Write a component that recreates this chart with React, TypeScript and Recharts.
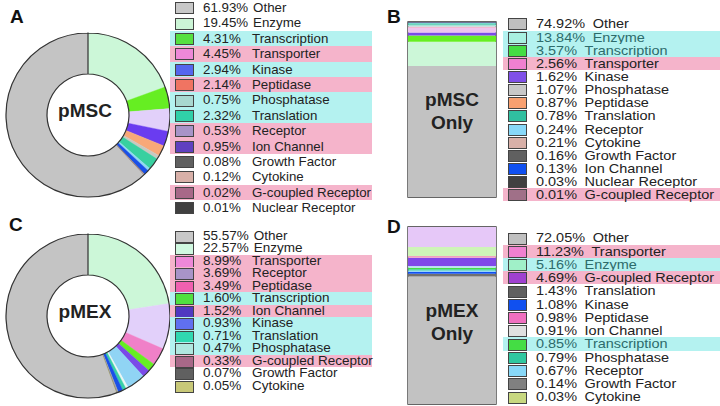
import { Bar, BarChart, Cell, Label, Pie, PieChart, ReferenceArea, XAxis, YAxis } from 'recharts';

const FONT = '"Liberation Sans", Arial, sans-serif';
const CYAN = '#b4f2f0';
const PINK = '#f5b4cb';

// A: pMSC (legend order)
const A_NAMES = ['Other', 'Enzyme', 'Transcription', 'Transporter', 'Kinase', 'Peptidase', 'Phosphatase', 'Translation', 'Receptor', 'Ion Channel', 'Growth Factor', 'Cytokine', 'G-coupled Receptor', 'Nuclear Receptor'];
const A_VALUES = [61.93, 19.45, 4.31, 4.45, 2.94, 2.14, 0.75, 2.32, 0.53, 0.95, 0.08, 0.12, 0.02, 0.01];
const A_PIE_ORDER = ['Enzyme', 'Transcription', 'Transporter', 'Kinase', 'Peptidase', 'Phosphatase', 'Translation', 'Receptor', 'Ion Channel', 'Growth Factor', 'Cytokine', 'G-coupled Receptor', 'Nuclear Receptor', 'Other'];

// B: pMSC only
const B_NAMES = ['Other', 'Enzyme', 'Transcription', 'Transporter', 'Kinase', 'Phosphatase', 'Peptidase', 'Translation', 'Receptor', 'Cytokine', 'Growth Factor', 'Ion Channel', 'Nuclear Receptor', 'G-coupled Receptor'];
const B_VALUES = [74.92, 13.84, 3.57, 2.56, 1.62, 1.07, 0.87, 0.78, 0.24, 0.21, 0.16, 0.13, 0.03, 0.01];
const B_STACK_ORDER = ['Other', 'Enzyme', 'Transcription', 'Kinase', 'Transporter', 'Peptidase', 'Phosphatase', 'Translation', 'Receptor', 'Cytokine', 'Growth Factor', 'Ion Channel', 'Nuclear Receptor', 'G-coupled Receptor'];

// C: pMEX
const C_NAMES = ['Other', 'Enzyme', 'Transporter', 'Receptor', 'Peptidase', 'Transcription', 'Ion Channel', 'Kinase', 'Translation', 'Phosphatase', 'G-coupled Receptor', 'Growth Factor', 'Cytokine'];
const C_VALUES = [55.57, 22.57, 8.99, 3.69, 3.49, 1.6, 1.52, 0.93, 0.71, 0.47, 0.33, 0.07, 0.05];
const C_PIE_ORDER = ['Enzyme', 'Transporter', 'Peptidase', 'Transcription', 'Ion Channel', 'Receptor', 'Phosphatase', 'Translation', 'Kinase', 'G-coupled Receptor', 'Growth Factor', 'Cytokine', 'Other'];

// D: pMEX only
const D_NAMES = ['Other', 'Transporter', 'Enzyme', 'G-coupled Receptor', 'Translation', 'Kinase', 'Peptidase', 'Ion Channel', 'Transcription', 'Phosphatase', 'Receptor', 'Growth Factor', 'Cytokine'];
const D_VALUES = [72.05, 11.23, 5.16, 4.69, 1.43, 1.08, 0.98, 0.91, 0.85, 0.79, 0.67, 0.14, 0.03];
const D_STACK_ORDER = ['Other', 'Translation', 'Growth Factor', 'Kinase', 'Receptor', 'Phosphatase', 'Transcription', 'Ion Channel', 'G-coupled Receptor', 'Peptidase', 'Enzyme', 'Transporter', 'Cytokine'];

// styles
const A_SWATCH = ['#c8c8c8', '#ccf5d6', '#55e040', '#ee88d8', '#5566ee', '#f07462', '#a8d8d0', '#30d0a8', '#a894c8', '#6040c0', '#606060', '#d8b0a8', '#a86888', '#404040'];
const A_BANDS = ['', '', CYAN, PINK, CYAN, PINK, CYAN, CYAN, PINK, PINK, '', '', PINK, ''];
const A_FILL: Record<string, string> = { Other: '#c4c4c4', Enzyme: '#ccf7d8', Transcription: '#66ee22', Transporter: '#e2d0fa', Kinase: '#6a3cf0', Peptidase: '#f8a878', Phosphatase: '#c8c8c0', Translation: '#38d0a0', Receptor: '#90d8f0', 'Ion Channel': '#1a50e8' };

const B_SWATCH = ['#c0c0c0', '#a8f0e0', '#44dd44', '#f080d0', '#8050e8', '#c8c8c8', '#f8a070', '#30c0a0', '#88d8f8', '#d8b0a8', '#606060', '#1050f0', '#404040', '#a07088'];
const B_BANDS = ['', CYAN, CYAN, PINK, '', '', '', '', '', '', '', '', '', PINK];
const B_FILL: Record<string, string> = { Other: '#c2c2c2', Enzyme: '#ccf7d8', Transcription: '#66ee22', Kinase: '#7a4ae8', Transporter: '#eec4ee', Peptidase: '#f2b8d0', Phosphatase: '#a8e0d8', Translation: '#40c8a8' };

const C_SWATCH = ['#c8c8c8', '#d0f8e0', '#ee88d8', '#a894c8', '#f060b0', '#50e040', '#5038c0', '#6070f0', '#30d8b0', '#b0e8e0', '#a86888', '#606060', '#c8c878'];
const C_BANDS = ['', '', PINK, PINK, PINK, CYAN, PINK, CYAN, CYAN, CYAN, PINK, '', ''];
const C_FILL: Record<string, string> = { Other: '#c4c4c4', Enzyme: '#ccf7d8', Transporter: '#e2d0fa', Peptidase: '#f080c8', Transcription: '#66ee22', 'Ion Channel': '#7a4ae8', Receptor: '#90d4f4', Phosphatase: '#eaf6f2', Translation: '#38d0a8', Kinase: '#1a50e8', 'G-coupled Receptor': '#a0a0a0' };

const D_SWATCH = ['#c0c0c0', '#f080d0', '#a0f0c8', '#a040d0', '#606060', '#1050f0', '#f070c0', '#e0e0e0', '#44dd44', '#30c8a0', '#88d8f8', '#808080', '#c8d880'];
const D_BANDS = ['', PINK, CYAN, PINK, '', '', '', '', CYAN, '', '', '', ''];
const D_FILL: Record<string, string> = { Other: '#c2c2c2', Transporter: '#e6c8f8', Enzyme: '#cef5b8', 'G-coupled Receptor': '#8048e8', Peptidase: '#f0a0c0', 'Ion Channel': '#b8dcf0', Translation: '#707070' };

function colorOf(name: string, names: string[], swatch: string[], fill: Record<string, string>) {
  return fill[name] ?? swatch[names.indexOf(name)];
}

function Key({ names, values, swatch, bands, top, rowH, left, bandRight, fontSize, labelCol, teal, stretch = 1 }: {
  names: string[]; values: number[]; swatch: string[]; bands: string[]; top: number; rowH: number;
  left: number; bandRight: number; fontSize: number; labelCol?: number; teal?: boolean; stretch?: number;
}) {
  return (
    <div style={{ position: 'absolute', left, top, width: bandRight - left }}>
      {names.map((n, i) => (
        <div key={n} style={{ position: 'relative', height: rowH, background: bands[i] || 'transparent' }}>
          <div style={{
            position: 'absolute', left: 5, top: rowH / 2 - 5.5, width: 17, height: 10,
            background: swatch[i], border: '1px solid #444',
          }} />
          <div style={{
            position: 'absolute', left: 33, top: 0, height: rowH, lineHeight: `${rowH}px`,
            fontSize, whiteSpace: 'pre', color: teal && bands[i] === CYAN ? '#2d6b6b' : '#222',
            transform: `scaleX(${stretch})`, transformOrigin: 'left center',
          }}>
            <span style={{ display: 'inline-block', minWidth: labelCol ?? 0 }}>{values[i].toFixed(2)}%</span>
            <span style={{ marginLeft: labelCol ? 5 : 7 }}>{n}</span>
          </div>
        </div>
      ))}
    </div>
  );
}

function Donut({ names, values, order, swatch, fill, title, top }: {
  names: string[]; values: number[]; order: string[]; swatch: string[]; fill: Record<string, string>; title: string; top: number;
}) {
  const data = order.map((n) => ({ name: n, value: values[names.indexOf(n)] }));
  return (
    <div style={{ position: 'absolute', left: 0, top }}>
      <PieChart width={170} height={200}>
        <Pie data={data} dataKey="value" cx={83} cy={100} innerRadius={41} outerRadius={82}
          startAngle={90} endAngle={-270} isAnimationActive={false}>
          {data.map((d) => {
            const c = colorOf(d.name, names, swatch, fill);
            return <Cell key={d.name} fill={c} stroke={c} strokeWidth={0.4} />;
          })}
          <Label value={title} position="center" fill="#222" fontSize={19} fontWeight="bold" fontFamily={FONT} />
        </Pie>
        <Pie data={[{ value: 1 }]} dataKey="value" cx={83} cy={100} innerRadius={41} outerRadius={82}
          startAngle={90} endAngle={-270} fill="none" stroke="#333" strokeWidth={1.2} isAnimationActive={false} />
      </PieChart>
    </div>
  );
}

function Stack({ names, values, order, swatch, fill, top, height }: {
  names: string[]; values: number[]; order: string[]; swatch: string[]; fill: Record<string, string>; top: number; height: number;
}) {
  const row: Record<string, string | number> = { name: 'all' };
  names.forEach((n, i) => { row[n] = values[i]; });
  return (
    <div style={{ position: 'absolute', left: 407, top }}>
      <BarChart width={90} height={height} data={[row]} margin={{ top: 1, right: 1, bottom: 1, left: 1 }} barCategoryGap={0}>
        <XAxis dataKey="name" hide />
        <YAxis type="number" hide domain={[0, 100]} />
        {order.map((n) => (
          <Bar key={n} dataKey={n} stackId="s" fill={colorOf(n, names, swatch, fill)} isAnimationActive={false} />
        ))}
        <ReferenceArea y1={0} y2={100} fill="none" stroke="#333" strokeWidth={1.3} ifOverflow="visible" />
      </BarChart>
    </div>
  );
}

const letter = (t: string, left: number, top: number) => (
  <div style={{ position: 'absolute', left, top, fontSize: 19, fontWeight: 'bold', lineHeight: '19px', color: '#111' }}>{t}</div>
);

const inBar = (t: string, top: number) => (
  <div style={{ position: 'absolute', left: 408, top, width: 88, textAlign: 'center', fontSize: 19, fontWeight: 'bold', lineHeight: '23px', color: '#222' }}>
    {t}<br />Only
  </div>
);

export default function App() {
  return (
    <div style={{ position: 'absolute', left: 0, top: 0, width: 720, height: 406, background: '#fff', fontFamily: FONT, overflow: 'hidden' }}>
      <Key names={A_NAMES} values={A_VALUES} swatch={A_SWATCH} bands={A_BANDS} top={0} rowH={15.4} left={170} bandRight={372} fontSize={13.3} labelCol={44} />
      <Key names={C_NAMES} values={C_VALUES} swatch={C_SWATCH} bands={C_BANDS} top={229.75} rowH={12.5} left={170} bandRight={372} fontSize={13.5} labelCol={44} />
      <Key names={B_NAMES} values={B_VALUES} swatch={B_SWATCH} bands={B_BANDS} top={17.4} rowH={13.15} left={503} bandRight={720} fontSize={13.4} stretch={1.08} teal />
      <Key names={D_NAMES} values={D_VALUES} swatch={D_SWATCH} bands={D_BANDS} top={231.4} rowH={13.25} left={503} bandRight={720} fontSize={13.4} stretch={1.08} teal />

      <Donut names={A_NAMES} values={A_VALUES} order={A_PIE_ORDER} swatch={A_SWATCH} fill={A_FILL} title="pMSC" top={10} />
      <Donut names={C_NAMES} values={C_VALUES} order={C_PIE_ORDER} swatch={C_SWATCH} fill={C_FILL} title="pMEX" top={211} />

      <Stack names={B_NAMES} values={B_VALUES} order={B_STACK_ORDER} swatch={B_SWATCH} fill={B_FILL} top={21} height={177} />
      <Stack names={D_NAMES} values={D_VALUES} order={D_STACK_ORDER} swatch={D_SWATCH} fill={D_FILL} top={226} height={179} />
      {inBar('pMSC', 88)}
      {inBar('pMEX', 299)}

      {letter('A', 10, 7)}
      {letter('B', 387, 7)}
      {letter('C', 9, 215)}
      {letter('D', 387, 217)}
    </div>
  );
}
